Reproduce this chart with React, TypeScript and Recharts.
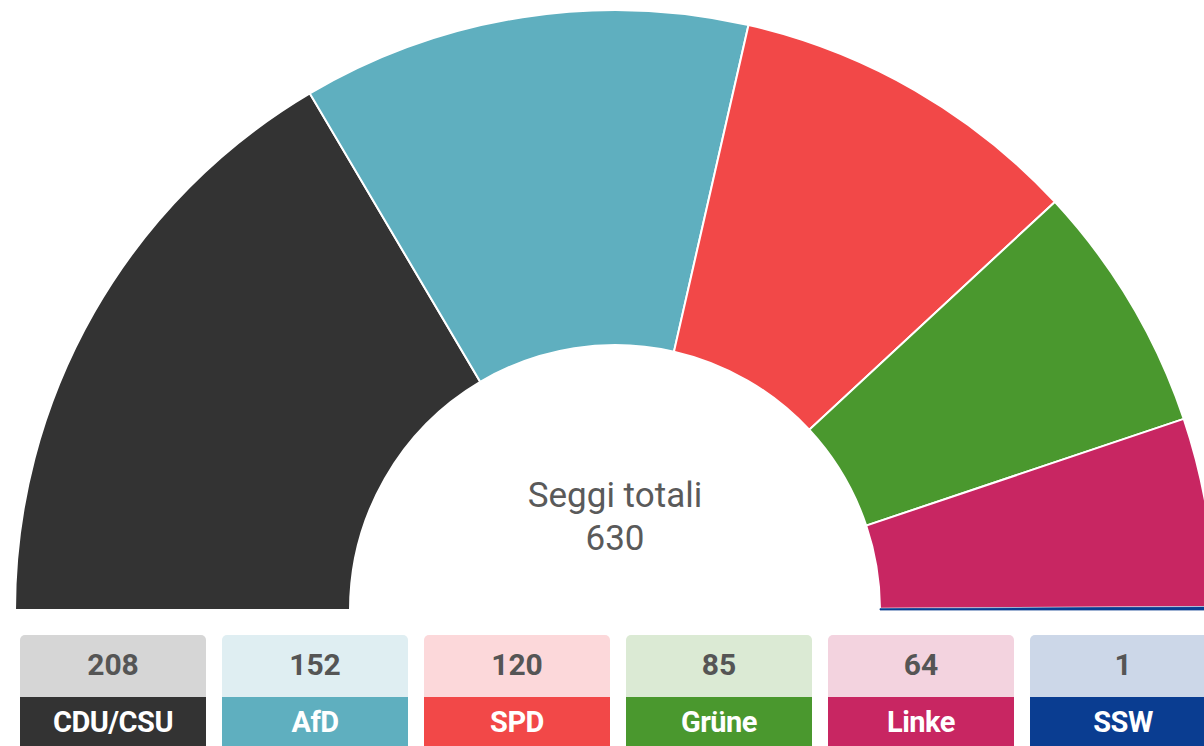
import { PieChart, Pie, Cell, Label } from 'recharts';

const parties = ['CDU/CSU', 'AfD', 'SPD', 'Grüne', 'Linke', 'SSW'];
const seats = [208, 152, 120, 85, 64, 1];
const colors = ['#333333', '#5fafbf', '#f24848', '#4a982e', '#c82662', '#0a3d91'];
const lightColors = ['#d6d6d6', '#dfeef2', '#fcd8da', '#dbead4', '#f3d3df', '#ccd7e8'];
const totalLabel = 'Seggi totali';

const data = parties.map((name, i) => ({ name, value: seats[i] }));
const total = seats.reduce((a, b) => a + b, 0);

function CenterLabel({ viewBox }: any) {
  const { cx, cy } = viewBox;
  return (
    <g>
      <text x={cx} y={cy - 103} textAnchor="middle" fontSize={35} fill="#5a5a5a" fontFamily="Roboto">
        {totalLabel}
      </text>
      <text x={cx} y={cy - 60} textAnchor="middle" fontSize={35} fill="#5a5a5a" fontFamily="Roboto">
        {total}
      </text>
    </g>
  );
}

export default function App() {
  return (
    <div style={{ position: 'fixed', left: 0, top: 0, width: 1204, height: 746, overflow: 'hidden', background: '#fff', fontFamily: 'Roboto' }}>
      <PieChart
        width={1204}
        height={746}
        margin={{ top: 0, right: 0, bottom: 0, left: 0 }}
        style={{ position: 'absolute', left: 0, top: 0 }}
      >
        <Pie
          data={data}
          dataKey="value"
          nameKey="name"
          cx={615}
          cy={610}
          startAngle={180}
          endAngle={0}
          innerRadius={265}
          outerRadius={600}
          stroke="#ffffff"
          strokeWidth={2}
          isAnimationActive={false}
        >
          {data.map((d, i) => (
            <Cell
              key={d.name}
              fill={colors[i]}
              stroke={i === data.length - 1 ? colors[i] : '#ffffff'}
              strokeWidth={i === data.length - 1 ? 0.8 : 2}
            />
          ))}
          <Label content={CenterLabel} />
        </Pie>
      </PieChart>

      {parties.map((name, i) => (
        <div
          key={name}
          style={{
            position: 'absolute',
            left: 20 + i * 202,
            top: 635,
            width: 186,
            height: 120,
            borderRadius: 5,
            overflow: 'hidden',
            textAlign: 'center',
          }}
        >
          <div style={{ height: 62, lineHeight: '60px', background: lightColors[i], color: '#555', fontWeight: 700, fontSize: 30 }}>
            {seats[i]}
          </div>
          <div style={{ height: 58, lineHeight: '50px', background: colors[i], color: '#fff', fontWeight: 700, fontSize: 29, letterSpacing: -0.5 }}>
            {name}
          </div>
        </div>
      ))}
    </div>
  );
}
